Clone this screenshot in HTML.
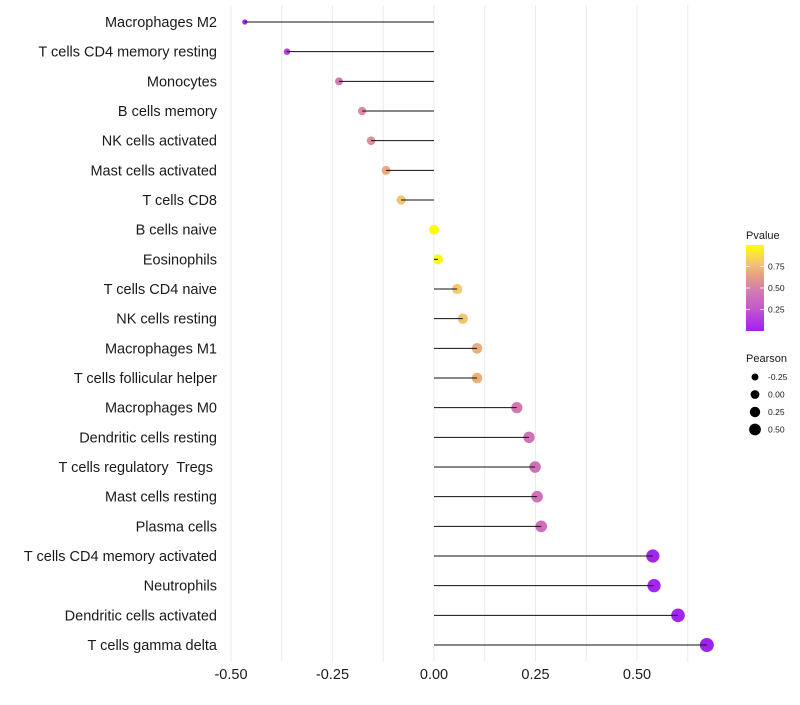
<!DOCTYPE html>
<html><head><meta charset="utf-8"><style>
body{margin:0;background:#fff;font-family:"Liberation Sans",sans-serif}
svg text{font-family:"Liberation Sans",sans-serif;white-space:pre}
</style></head><body>
<svg id="chart" width="800" height="700" xmlns="http://www.w3.org/2000/svg"></svg>
<script>
const categories=["Macrophages M2","T cells CD4 memory resting","Monocytes","B cells memory","NK cells activated","Mast cells activated","T cells CD8","B cells naive","Eosinophils","T cells CD4 naive","NK cells resting","Macrophages M1","T cells follicular helper","Macrophages M0","Dendritic cells resting","T cells regulatory  Tregs ","Mast cells resting","Plasma cells","T cells CD4 memory activated","Neutrophils","Dendritic cells activated","T cells gamma delta"];
const pearson=[-0.466,-0.362,-0.234,-0.177,-0.155,-0.118,-0.081,0.0,0.01,0.057,0.071,0.106,0.106,0.204,0.234,0.249,0.254,0.264,0.539,0.542,0.601,0.672];
const pvalue=[0.03,0.15,0.45,0.55,0.57,0.68,0.78,1.0,0.97,0.8,0.78,0.7,0.7,0.45,0.42,0.4,0.4,0.38,0.03,0.03,0.02,0.01];
const xTicks=[-0.5,-0.25,0,0.25,0.5];
const xTickLabels=["-0.50","-0.25","0.00","0.25","0.50"];
const colorTicks=[0.25,0.5,0.75];
const sizeTicks=[-0.25,0,0.25,0.5];

const NS="http://www.w3.org/2000/svg";
const svg=document.getElementById('chart');
const x=v=>434+v*406;
const y=i=>22+i*(623/(categories.length-1));
const r=v=>Math.sqrt(Math.max(1,24+37*v));
const stops=[[0,[160,32,240]],[0.3,[200,96,200]],[0.5,[215,128,170]],[0.65,[232,160,128]],[0.8,[244,200,112]],[1,[255,255,0]]];
function col(p){for(let k=1;k<stops.length;k++){if(p<=stops[k][0]){const a=stops[k-1],b=stops[k];const t=(p-a[0])/(b[0]-a[0]);return 'rgb('+a[1].map((c,j)=>Math.round(c+(b[1][j]-c)*t)).join(',')+')';}}return 'rgb(255,255,0)';}
function el(tag,attrs,parent){const e=document.createElementNS(NS,tag);for(const k in attrs)e.setAttribute(k,attrs[k]);(parent||svg).appendChild(e);return e;}

for(let v=-0.5;v<=0.625+1e-9;v+=0.125){
 const g=el('line',{x1:x(v),x2:x(v),y1:5,y2:662,stroke:'#ebebeb','stroke-width':1});
 
 
}
categories.forEach((c,i)=>{
 const p=el('circle',{cx:x(pearson[i]),cy:y(i),r:r(pearson[i]),fill:col(pvalue[i])});
 
 
 const s=el('line',{x1:x(0),x2:x(pearson[i]),y1:y(i),y2:y(i),stroke:'#111','stroke-width':1});
 
 
 const t=el('text',{x:217,y:y(i)+5,'text-anchor':'end','font-size':14.5,fill:'#1a1a1a'});
 t.textContent=c;
 
 
});
xTicks.forEach((v,i)=>{
 const t=el('text',{x:x(v),y:679,'text-anchor':'middle','font-size':14.5,fill:'#1a1a1a'});
 t.textContent=xTickLabels[i];
 
 
});
const lt=el('text',{x:746,y:239,'font-size':11,fill:'#1a1a1a'});lt.textContent='Pvalue';


const defs=el('defs',{});
const lg=el('linearGradient',{id:'pg',x1:0,y1:1,x2:0,y2:0},defs);
stops.forEach(s=>el('stop',{offset:s[0],'stop-color':col(s[0])},lg));
const bar=el('rect',{x:746,y:245,width:18,height:86,fill:'url(#pg)'});


colorTicks.forEach(v=>{
 const yy=331-v*86;
 el('line',{x1:746,x2:750,y1:yy,y2:yy,stroke:'#fff','stroke-width':0.8});
 el('line',{x1:760,x2:764,y1:yy,y2:yy,stroke:'#fff','stroke-width':0.8});
 const t=el('text',{x:768,y:yy+3,'font-size':8.5,fill:'#1a1a1a'});t.textContent=v.toFixed(2);
 
 
});
const st=el('text',{x:746,y:362,'font-size':11,fill:'#1a1a1a'});st.textContent='Pearson';


sizeTicks.forEach((v,i)=>{
 const yy=377+i*17.5;
 const c=el('circle',{cx:755,cy:yy,r:r(v)*0.9,fill:'#000'});
 
 
 const t=el('text',{x:768,y:yy+3,'font-size':8.5,fill:'#1a1a1a'});t.textContent=v.toFixed(2);
 
 
});
</script>
</body></html>
